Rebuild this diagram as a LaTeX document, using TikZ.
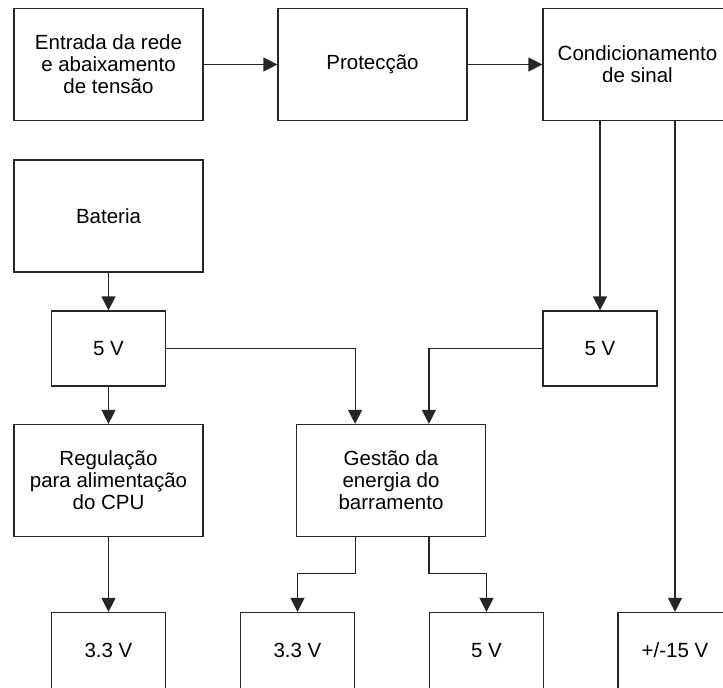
\documentclass[tikz,border=0pt]{standalone}
\usepackage{fontspec}
\setmainfont{Liberation Sans}
\usetikzlibrary{arrows.meta}

\tikzset{
  block/.style={draw=black!85, line width=1.2pt, minimum width=189pt, minimum height=112pt,
    inner sep=0pt, align=center, font=\fontsize{20.5}{22}\selectfont},
  small block/.style={block, minimum width=114pt, minimum height=75pt},
  flow/.style={draw=black!85, line width=1.2pt, -{Triangle[length=14pt,width=14pt]}}
}

\begin{document}
\begin{tikzpicture}[x=1pt, y=-1pt]
\useasboundingbox (0,0) rectangle (723,688);
\clip (0,0) rectangle (723,688);

% top row
\node[block] (Entrada) at (108.5,64.5) {Entrada da rede\\e abaixamento\\de tensão};
\node[block] (Proteccao) at (372.5,64.5) {Protecção};
\node[block] (Cond) at (637.5,64.5) {Condicionamento\\de sinal};

% battery side
\node[block] (Bateria) at (108.5,216) {Bateria};
\node[small block] (Bat 5V) at (108.5,348.5) {5 V};
\node[small block] (Cond 5V) at (600,348.5) {5 V};
\node[block] (Regulacao) at (108.5,480.5) {Regulação\\para alimentação\\do CPU};
\node[block] (Gestao) at (391,480.5) {Gestão da\\energia do\\barramento};

% outputs
\node[small block, minimum height=76pt] (CPU 3V3) at (108.5,650.5) {3.3 V};
\node[small block, minimum height=76pt] (Bus 3V3) at (297.5,650.5) {3.3 V};
\node[small block, minimum height=76pt] (Bus 5V) at (486.5,650.5) {5 V};
\node[small block, minimum height=76pt] (Out 15V) at (675,650.5) {+/-15 V};

\draw[flow] (Entrada) -- (Proteccao);
\draw[flow] (Proteccao) -- (Cond);
\draw[flow] (Cond.south -| Cond 5V) -- (Cond 5V);
\draw[flow] (Cond.south -| Out 15V) -- (Out 15V);
\draw[flow] (Bateria) -- (Bat 5V);
\draw[flow] (Bat 5V) -- (Regulacao);
\draw[flow] (Bat 5V) -| (Gestao.north -| Bus 3V3.east);
\draw[flow] (Cond 5V) -| (Gestao.north -| Bus 5V.west);
\draw[flow] (Regulacao) -- (CPU 3V3);
\draw[flow] (Gestao.south -| Bus 3V3.east) -- ++(0,36) -| (Bus 3V3);
\draw[flow] (Gestao.south -| Bus 5V.west) -- ++(0,36) -| (Bus 5V);
\end{tikzpicture}
\end{document}
